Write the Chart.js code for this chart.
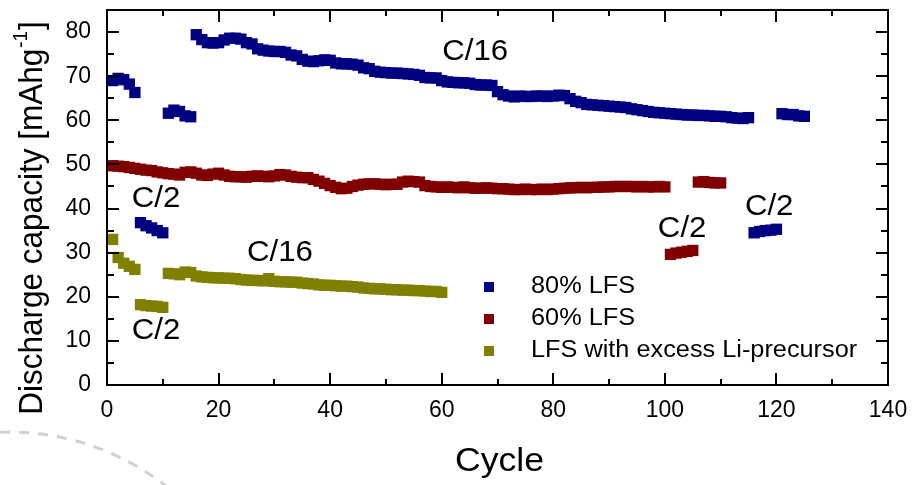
<!DOCTYPE html>
<html>
<head>
<meta charset="utf-8">
<script src="https://cdn.jsdelivr.net/npm/chart.js@4/dist/chart.umd.min.js"></script>
<style>
html,body{margin:0;padding:0;background:#fff;}
#wrap{width:915px;height:485px;position:relative;}
canvas{display:block;}
</style>
</head>
<body>
<div id="wrap"><canvas id="c" width="915" height="485"></canvas></div>
<script>
// ---------- data ----------
const seriesNames = ['80% LFS', '60% LFS', 'LFS with excess Li-precursor'];

// discharge capacity per cycle (cycle = index + 1)
const capacity80 = [
  69.0, 69.5, 69.2, 68.2, 66.3,
  36.8, 36.1, 35.6, 35.0, 34.5,
  61.6, 62.3, 62.0, 61.0, 60.8,
  79.4, 78.3, 77.6, 77.5, 77.6, 78.2, 78.6, 78.6, 78.4, 77.6,
  77.3, 76.2, 75.9, 75.7, 75.6, 75.6, 75.4, 74.8, 74.6, 73.8,
  73.4, 73.3, 73.5, 73.7, 73.6, 73.0, 72.8, 72.8, 72.7, 72.5,
  71.9, 71.7, 71.1, 70.9, 70.8, 70.7, 70.7, 70.6, 70.5, 70.4,
  70.2, 69.7, 69.6, 69.6, 69.0, 68.7, 68.6, 68.5, 68.5, 68.4,
  68.1, 68.0, 68.0, 67.9, 66.5, 65.8, 65.5, 65.3, 65.5, 65.4,
  65.4, 65.5, 65.5, 65.4, 65.5, 65.7, 65.6, 64.9, 64.3, 64.0,
  63.6, 63.5, 63.4, 63.3, 63.2, 63.1, 63.0, 62.9, 62.6, 62.4,
  62.2, 62.0, 61.8, 61.7, 61.6, 61.5, 61.4, 61.3, 61.2, 61.2,
  61.1, 61.1, 61.0, 60.9, 60.9, 60.8, 60.6, 60.5, 60.4, 60.6,
  34.5, 34.8, 35.0, 35.1, 35.3,
  61.5, 61.3, 61.3, 61.0, 60.9
];

const capacity60 = [
  49.7, 49.6, 49.5, 49.3, 49.1, 48.9, 48.7, 48.6, 48.3, 48.1,
  47.9, 47.8, 47.6, 48.2, 48.3, 48.0, 47.6, 47.5, 47.8, 48.0,
  47.6, 47.3, 47.2, 47.2, 47.1, 47.3, 47.4, 47.3, 47.2, 47.4,
  47.7, 47.6, 47.3, 47.1, 47.0, 47.0, 46.6, 46.2, 45.7, 45.2,
  44.8, 44.5, 44.6, 45.0, 45.3, 45.5, 45.6, 45.6, 45.5, 45.4,
  45.5, 45.5, 46.0, 46.2, 46.1, 46.0, 45.2, 45.0, 44.9, 44.8,
  44.9, 44.8, 44.7, 44.9, 44.7, 44.6, 44.6, 44.7, 44.6, 44.5,
  44.5, 44.4, 44.3, 44.3, 44.4, 44.3, 44.3, 44.4, 44.3, 44.4,
  44.5, 44.6, 44.7, 44.7, 44.8, 44.7, 44.8, 44.8, 44.9, 44.9,
  45.0, 45.0, 45.0, 45.0, 44.9, 45.0, 44.9, 44.9, 45.0, 44.9,
  29.6, 29.9, 30.1, 30.3, 30.5,
  46.0, 46.1, 45.9, 45.8, 45.8
];

const capacityLi = [
  33.0, 28.9, 27.6, 26.9, 26.2,
  18.2, 18.0, 17.9, 17.8, 17.6,
  25.3, 25.2, 25.0, 25.6, 25.5, 24.7, 24.5, 24.4, 24.3, 24.3,
  24.2, 24.2, 24.1, 23.9, 23.8, 23.7, 23.7, 23.6, 24.1, 23.5,
  23.4, 23.4, 23.3, 23.3, 23.1, 23.0, 22.9, 22.7, 22.6, 22.6,
  22.5, 22.4, 22.4, 22.3, 22.2, 22.0, 21.9, 21.8, 21.8, 21.7,
  21.6, 21.6, 21.5, 21.5, 21.4, 21.4, 21.3, 21.2, 21.2, 21.0
];

const xTicks = [0, 20, 40, 60, 80, 100, 120, 140];
const yTicks = [0, 10, 20, 30, 40, 50, 60, 70, 80];
const xTitle = 'Cycle';
const yTitleMain = 'Discharge capacity [mAhg';
const yTitleSup = '-1';
const yTitleEnd = ']';
const rateLabels = ['C/16', 'C/2', 'C/16', 'C/2', 'C/2', 'C/2'];

// ---------- presentation ----------
const colors = ['#000080', '#800000', '#808000'];
const FONT = '"Liberation Sans", Arial, Helvetica, sans-serif';
// where each rate label sits, in data units (cycle, capacity)
const rateLabelAt = [[66.0, 75.6], [8.8, 42.2], [31.0, 29.9], [8.8, 12.2], [103.1, 35.5], [118.7, 40.5]];

function toPoints(vals) { return vals.map((v, i) => ({ x: i + 1, y: v })); }

function drawText(ctx, s, x, y, font, align, baseline, sx) {
  ctx.save();
  ctx.translate(x, y);
  ctx.scale(sx || 1, 1);
  ctx.font = font;
  ctx.textAlign = align;
  ctx.textBaseline = baseline;
  ctx.fillStyle = '#000';
  ctx.fillText(s, 0, 0);
  ctx.restore();
}

const decor = {
  id: 'decor',
  beforeDraw(chart) {
    const ctx = chart.ctx;
    // faint dashed arc at lower left of the figure
    ctx.save();
    ctx.strokeStyle = '#d0d0d0';
    ctx.lineWidth = 3;
    ctx.setLineDash([10, 9]);
    ctx.beginPath();
    ctx.arc(9, 687, 255, -1.68, -0.85);
    ctx.stroke();
    ctx.restore();
  },
  afterDatasetsDraw(chart) {
    const ctx = chart.ctx;
    const a = chart.chartArea;
    const xs = chart.scales.x, ys = chart.scales.y;
    ctx.save();
    ctx.strokeStyle = '#000';
    ctx.lineWidth = 2;
    ctx.setLineDash([]);
    ctx.strokeRect(a.left, a.top, a.right - a.left, a.bottom - a.top);
    ctx.beginPath();
    for (let v = xs.min; v <= xs.max; v += 10) {
      const p = Math.round(xs.getPixelForValue(v));
      const L = (v % 20 === 0) ? 12 : 6;
      ctx.moveTo(p, a.bottom); ctx.lineTo(p, a.bottom - L);
      ctx.moveTo(p, a.top); ctx.lineTo(p, a.top + L);
    }
    for (let v = ys.min; v <= ys.max; v += 5) {
      const p = Math.round(ys.getPixelForValue(v));
      const L = (v % 10 === 0) ? 12 : 7;
      ctx.moveTo(a.left, p); ctx.lineTo(a.left + L, p);
      ctx.moveTo(a.right, p); ctx.lineTo(a.right - L, p);
    }
    ctx.stroke();
    ctx.restore();

    // rate labels
    rateLabels.forEach((t, i) => {
      const [cx, cy] = rateLabelAt[i];
      drawText(ctx, t, xs.getPixelForValue(cx), ys.getPixelForValue(cy), '30px ' + FONT, 'center', 'middle', 1.04);
    });

    // legend
    chart.data.datasets.forEach((ds, i) => {
      const y = 287 + i * 32;
      ctx.fillStyle = ds.backgroundColor;
      ctx.fillRect(484, y - 5, 10, 10);
      drawText(ctx, ds.label, 531, y, '23px ' + FONT, 'left', 'middle', 1.1);
    });

    // x title
    drawText(ctx, xTitle, (a.left + a.right) / 2 + 2, 471, '33px ' + FONT, 'center', 'alphabetic', 1.08);

    // y title with superscript
    ctx.save();
    ctx.translate(42, 219);
    ctx.rotate(-Math.PI / 2);
    ctx.scale(1.05, 1.12);
    ctx.fillStyle = '#000';
    ctx.textBaseline = 'alphabetic';
    ctx.textAlign = 'left';
    const mainF = '30px ' + FONT, supF = '18px ' + FONT;
    ctx.font = mainF; const w1 = ctx.measureText(yTitleMain).width;
    const w3 = ctx.measureText(yTitleEnd).width;
    ctx.font = supF; const w2 = ctx.measureText(yTitleSup).width;
    let x0 = -(w1 + w2 + w3) / 2;
    ctx.font = mainF; ctx.fillText(yTitleMain, x0, 0);
    ctx.font = supF; ctx.fillText(yTitleSup, x0 + w1 + 1, -13);
    ctx.font = mainF; ctx.fillText(yTitleEnd, x0 + w1 + w2 + 2, 0);
    ctx.restore();
  }
};

const tickFont = { family: FONT, size: 23 };

new Chart(document.getElementById('c'), {
  type: 'scatter',
  data: {
    datasets: [capacity80, capacity60, capacityLi].map((vals, i) => ({
      label: seriesNames[i],
      data: toPoints(vals),
      backgroundColor: colors[i],
      borderColor: colors[i],
      borderWidth: 0,
      pointStyle: 'rect',
      pointRadius: 8,
      pointHoverRadius: 8,
      showLine: false
    }))
  },
  options: {
    responsive: false,
    animation: false,
    devicePixelRatio: 1,
    events: [],
    layout: { padding: { left: 0, top: 10, right: 27, bottom: 0 } },
    plugins: { legend: { display: false }, tooltip: { enabled: false } },
    scales: {
      x: {
        type: 'linear', min: 0, max: 140,
        afterBuildTicks: s => { s.ticks = xTicks.map(v => ({ value: v })); },
        afterFit: s => { s.height = 100; s.paddingLeft = 0; s.paddingRight = 0; s.paddingTop = 0; s.paddingBottom = 0; },
        grid: { display: false, drawTicks: false },
        border: { display: false },
        ticks: { font: tickFont, color: '#000', padding: 12, maxRotation: 0 }
      },
      y: {
        type: 'linear', min: 0, max: 85,
        afterBuildTicks: s => { s.ticks = yTicks.map(v => ({ value: v })); },
        afterFit: s => { s.width = 107; s.paddingLeft = 0; s.paddingRight = 0; s.paddingTop = 0; s.paddingBottom = 0; },
        grid: { display: false, drawTicks: false },
        border: { display: false },
        ticks: { font: tickFont, color: '#000', padding: 16 }
      }
    }
  },
  plugins: [decor]
});
</script>
</body>
</html>
